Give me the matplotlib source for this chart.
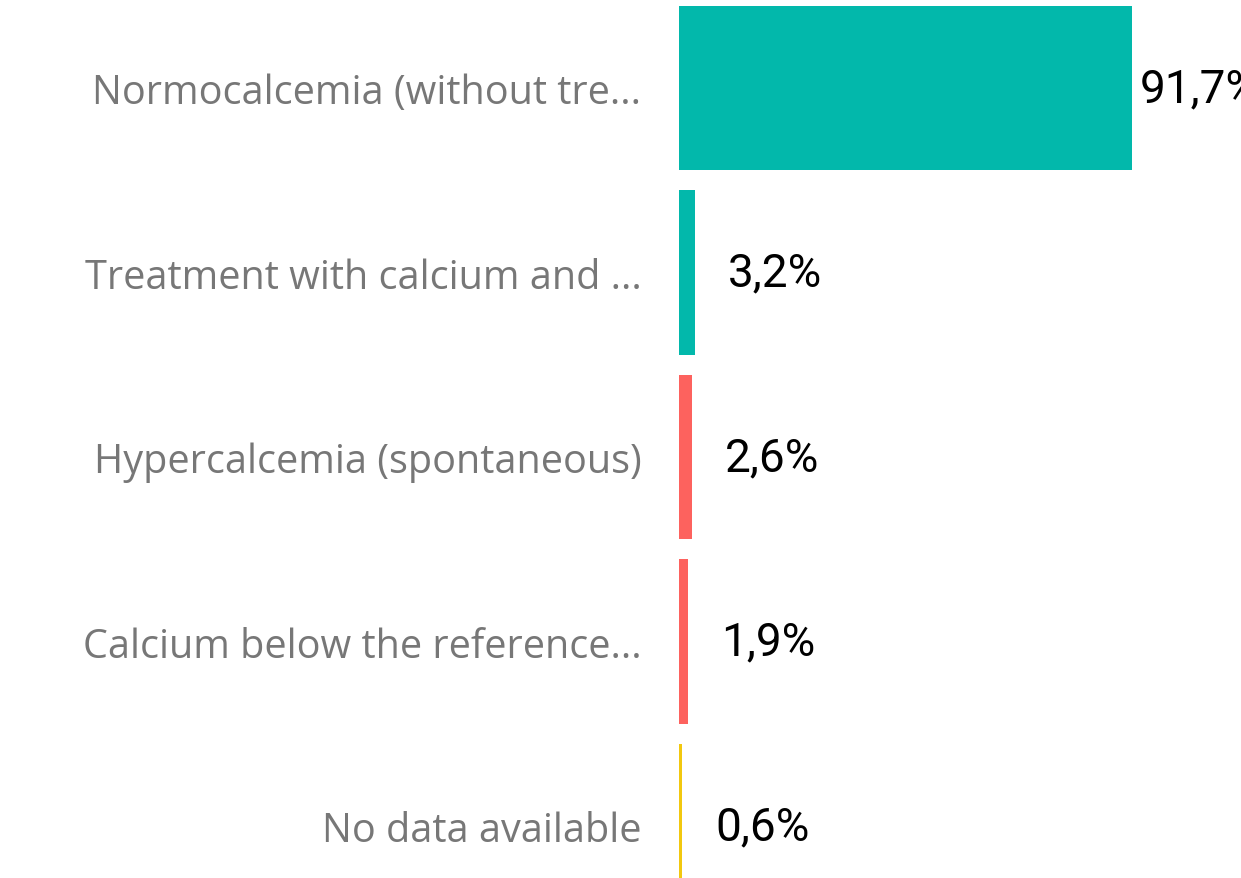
import matplotlib.pyplot as plt

# calcium status categories, share of patients (%)
categories = ["Normocalcemia (without tre...",
              "Treatment with calcium and ...",
              "Hypercalcemia (spontaneous)",
              "Calcium below the reference...",
              "No data available"]
values = [91.7, 3.2, 2.6, 1.9, 0.6]
value_labels = ["91,7%", "3,2%", "2,6%", "1,9%", "0,6%"]
bar_colors = ["#02B8AB", "#02B8AB", "#FD625E", "#FD625E", "#F2C80F"]

fig = plt.figure(figsize=(12.41, 8.79), dpi=100)
ax = fig.add_axes([0.5471, 0, 1 - 0.5471, 1])

ypos = list(range(len(categories)))
ax.barh(ypos, values, height=0.89, color=bar_colors)

ax.set_xlim(0, 113.8)
ax.set_ylim(4.282, -0.482)

ax.set_yticks(ypos)
ax.set_yticklabels(categories, fontsize=28.5, color="#777777", family="Open Sans")
ax.tick_params(axis="y", length=0, pad=27)
ax.set_xticks([])
for s in ax.spines.values():
    s.set_visible(False)

# value labels just past the bar end, kept inside the plot area
for y, v, lab in zip(ypos, values, value_labels):
    x = min(v + 6.7, 93.3)
    ax.text(x, y, lab, va="center", ha="left", fontsize=33,
            family=["Roboto", "DejaVu Sans"], color="black")

fig.savefig("out.png", dpi=100)
